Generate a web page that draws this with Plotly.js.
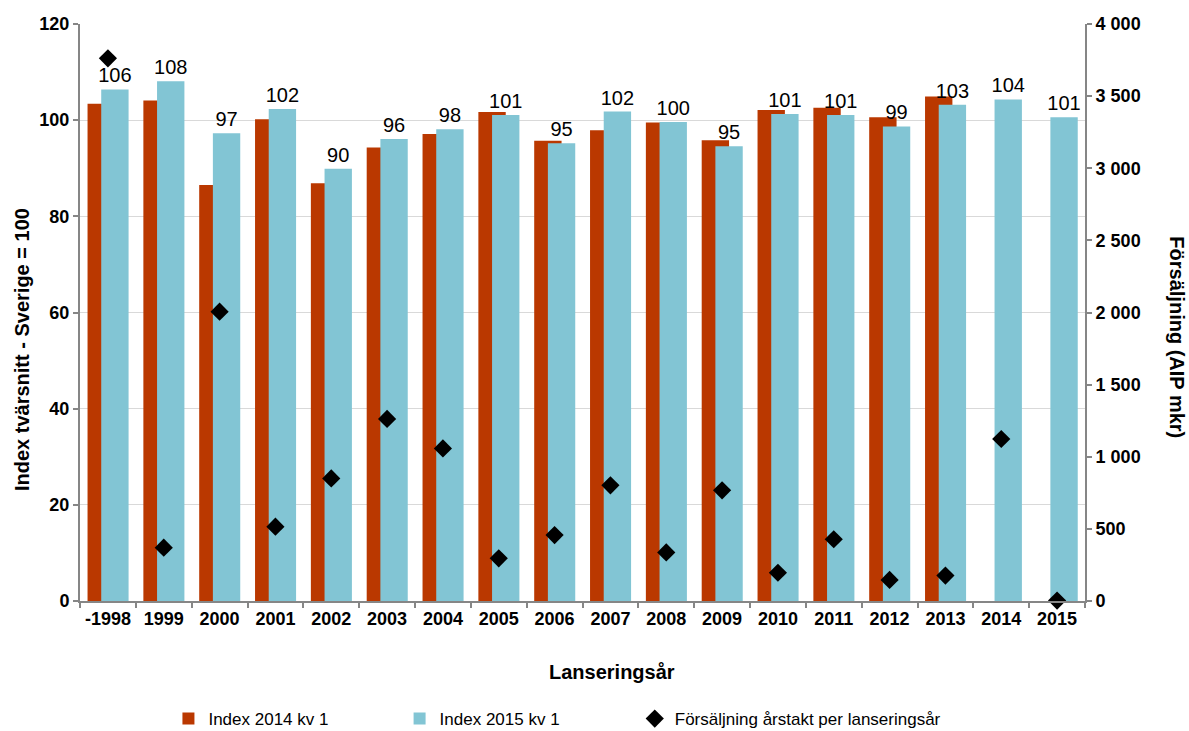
<!DOCTYPE html>
<html>
<head>
<meta charset="utf-8">
<script src="https://cdn.plot.ly/plotly-3.0.1.min.js"></script>
<style>html,body{margin:0;padding:0;background:#fff;}#chart{width:1189px;height:731px;}</style>
</head>
<body>
<div id="chart"></div>
<script>
const categories = ['-1998','1999','2000','2001','2002','2003','2004','2005','2006','2007','2008','2009','2010','2011','2012','2013','2014','2015'];
const index2014 = [103.4,104.1,86.5,100.2,86.9,94.3,97.1,101.7,95.7,97.9,99.5,95.8,102.1,102.6,100.6,104.9,null,null];
const index2015 = [106.4,108.1,97.3,102.3,89.9,96.1,98.1,101.1,95.2,101.8,99.6,94.6,101.3,101.1,98.7,103.2,104.3,100.6];
const sales = [3762,370,2006,515,850,1262,1058,296,457,802,337,767,196,428,146,176,1123,3];
const seriesNames = ['Index 2014 kv 1','Index 2015 kv 1','Försäljning årstakt per lanseringsår'];

const FONT = 'Liberation Sans, Arial, sans-serif';
const AXIS = '#868686';

const traces = [
  {type:'bar', x:categories, y:index2014, name:seriesNames[0], legend:'legend',
   marker:{color:'#BA3800'}, width:0.49, offset:-0.365},
  {type:'bar', x:categories, y:index2015, name:seriesNames[1], legend:'legend2',
   marker:{color:'#82C5D4'}, width:0.49, offset:-0.12,
   texttemplate:'%{y:.0f}', textposition:'outside', cliponaxis:false, constraintext:'none',
   textfont:{family:FONT, size:20, color:'#000'}},
  {type:'scatter', mode:'markers', x:categories, y:sales, yaxis:'y2', name:seriesNames[2], legend:'legend3',
   marker:{symbol:'diamond', size:14, color:'#000'}, cliponaxis:false}
];

const legendBase = {orientation:'h', y:-0.2045, yanchor:'middle', xanchor:'left',
  font:{family:FONT, size:17, color:'#000'}, bgcolor:'rgba(0,0,0,0)'};

const layout = {
  width:1189, height:731,
  margin:{l:80, r:104, t:24, b:130, autoexpand:false},
  paper_bgcolor:'#fff', plot_bgcolor:'#fff',
  font:{family:FONT, color:'#000'},
  separators:', ',
  barmode:'overlay',
  showlegend:true,
  xaxis:{type:'category', range:[-0.5, categories.length-0.5], tickson:'boundaries', ticks:'outside', ticklen:5, tickwidth:2, tickcolor:AXIS,
         tickangle:0, automargin:false,
         showline:true, linecolor:AXIS, linewidth:2, showgrid:false,
         tickfont:{family:FONT, size:18, weight:'bold', color:'#000'}},
  yaxis:{range:[0,120], dtick:20, ticks:'outside', ticklen:5, tickwidth:2, tickcolor:AXIS, automargin:false,
         showline:true, linecolor:AXIS, linewidth:2, gridcolor:'#d9d9d9', gridwidth:1, zeroline:false,
         tickfont:{family:FONT, size:18, weight:'bold', color:'#000'}},
  yaxis2:{overlaying:'y', side:'right', range:[0,4000], dtick:500, separatethousands:true, automargin:false,
          ticks:'outside', ticklen:5, tickwidth:2, tickcolor:AXIS, showline:true, linecolor:AXIS, linewidth:2,
          showgrid:false, zeroline:false,
          tickfont:{family:FONT, size:18, weight:'bold', color:'#000'}},
  legend: Object.assign({}, legendBase, {x:0.088}),
  legend2: Object.assign({}, legendBase, {x:0.318}),
  legend3: Object.assign({}, legendBase, {x:0.552}),
  annotations:[
    {text:'Index tvärsnitt - Sverige = 100', xref:'paper', yref:'paper', x:-0.0577, y:0.435,
     xanchor:'center', yanchor:'middle', textangle:-90, showarrow:false,
     font:{family:FONT, size:20, weight:'bold', color:'#000'}},
    {text:'Försäljning (AIP mkr)', xref:'paper', yref:'paper', x:1.0915, y:0.457,
     xanchor:'center', yanchor:'middle', textangle:90, showarrow:false,
     font:{family:FONT, size:20, weight:'bold', color:'#000'}},
    {text:'Lanseringsår', xref:'paper', yref:'paper', x:0.529, y:-0.123,
     xanchor:'center', yanchor:'middle', showarrow:false,
     font:{family:FONT, size:20, weight:'bold', color:'#000'}}
  ]
};

Plotly.newPlot('chart', traces, layout, {displayModeBar:false, staticPlot:true});
</script>
</body>
</html>
